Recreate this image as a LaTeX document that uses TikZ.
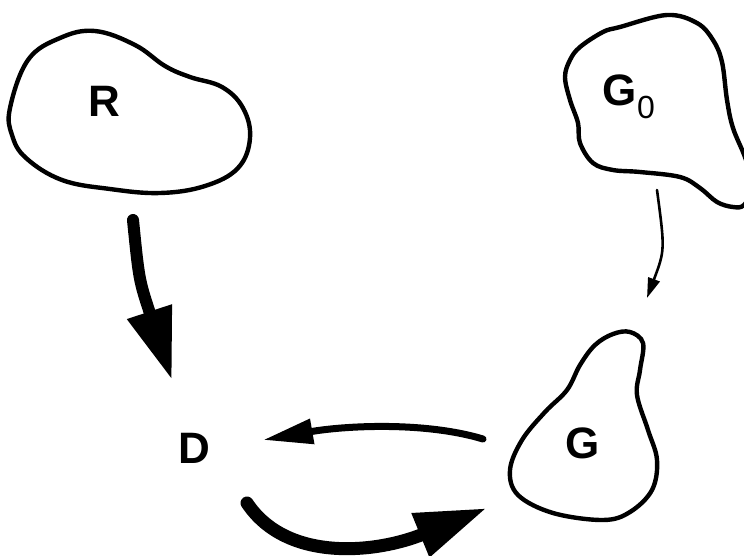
\documentclass[tikz,border=0pt]{standalone}
\usepackage{fontspec}
\setmainfont{Liberation Sans}
\usetikzlibrary{arrows.meta,calc}
\begin{document}
\begin{tikzpicture}[x=1pt,y=-1pt,
  blob/.style={line width=4.4pt, line join=round},
  lbl/.style={font=\fontsize{44}{44}\selectfont\bfseries, inner sep=0pt},
  heavy/.style={line width=12pt, line cap=round, -{Triangle[length=72pt,width=44pt]}},
  medium/.style={line width=7pt, line cap=round, -{Triangle[length=50pt,width=24pt]}},
  thin/.style={line width=2.6pt, line cap=round, -{Triangle[length=20pt,width=12pt]}}]
\useasboundingbox (0,0) rectangle (744,555);
\begin{scope}
\clip (0,0) rectangle (744,555);

% outlines of the regions
\draw[blob] plot[smooth cycle, tension=0.65] coordinates {
  (10,108) (28,60) (60,38) (95,31) (135,45) (165,66) (190,77) (222,87)
  (243,108) (250,138) (238,168) (205,186) (160,193) (110,189) (62,180)
  (26,158) (12,135)};
\draw[blob] plot[smooth cycle, tension=0.6] coordinates {
  (620,27) (667,15) (697,23) (713,40) (722,62) (727,100) (733,128)
  (746,160) (752,188) (744,205) (733,207) (717,202) (700,188) (680,177)
  (640,172) (613,170) (593,163) (580,143) (578,123) (570,100) (565,77)
  (570,60) (580,47) (603,32)};
\draw[blob] plot[smooth cycle, tension=0.6] coordinates {
  (630,332) (643,343) (640,370) (637,395) (648,430) (657,460) (652,490)
  (630,512) (603,520) (553,513) (518,495) (510,470) (522,440) (545,412)
  (567,390) (580,365) (595,345) (613,334)};
\end{scope}

% labels
\node[lbl] (R) at (104,101) {R};
\node[lbl] (G0) at (629,97) {G\raisebox{-0.3em}{\fontsize{32}{32}\selectfont\mdseries 0}};
\node[lbl] (G) at (583,443) {G};
\node[lbl] (D) at (194,448) {D};

% ends of the connectors
\coordinate (rd-s) at ($(R)+(29,119)$);
\coordinate (rd-e) at ($(D)+(-22,-68)$);
\coordinate (gg-s) at ($(G0)+(28,93)$);
\coordinate (gg-e) at ($(G)+(64,-145)$);
\coordinate (gd-s) at ($(G)+(-100,-4)$);
\coordinate (gd-e) at ($(D)+(69,-8)$);
\coordinate (dg-s) at ($(D)+(53,55)$);
\coordinate (dg-e) at ($(G)+(-96,65)$);

% connectors
\draw[heavy] (rd-s) .. controls ($(rd-s)+(6,60)$) .. (rd-e);
\draw[thin] (gg-s) .. controls ($(gg-s)+(8,60)$) .. (gg-e);
\draw[medium] (gd-s) .. controls ($(gd-s)+(-60,-18)$) and ($(gd-e)+(80,-14)$) .. (gd-e);
\draw[heavy, line width=13pt] (dg-s) .. controls ($(dg-s)+(40,60)$) and ($(dg-e)+(-110,45)$) .. (dg-e);
\end{tikzpicture}
\end{document}
